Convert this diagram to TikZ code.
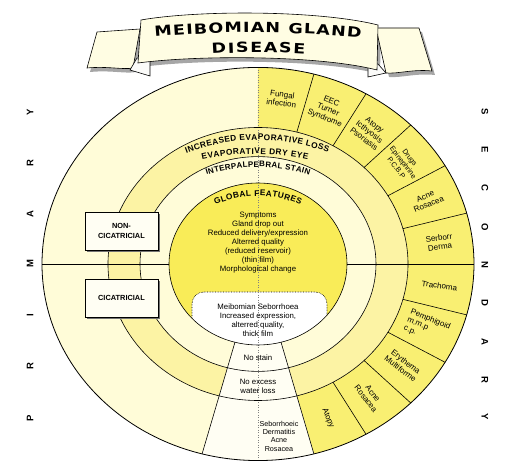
\documentclass[tikz,border=0pt]{standalone}
\usepackage{fontspec}
\setmainfont{Liberation Sans}
\newfontfamily\titlefont{DejaVu Sans}[FakeStretch=1.25]
\usetikzlibrary{decorations.text,shadows}

\definecolor{palecream}{HTML}{FFFCD8}
\definecolor{ringyellow}{HTML}{FCF3A4}
\definecolor{segyellow}{HTML}{F9EF72}
\definecolor{coreyellow}{HTML}{F9EC58}
\definecolor{cellcream}{HTML}{FFFEF3}
\definecolor{bannercream}{HTML}{FFFDE3}

\tikzset{
  seglabel/.style={font=\fontsize{8}{8.8}\selectfont, align=center, inner sep=1pt},
  bodytext/.style={font=\fontsize{7.8}{9}\selectfont, align=center, inner sep=0pt},
  sideletter/.style={font=\bfseries\fontsize{9.5}{9.5}\selectfont, inner sep=0pt},
  classbox/.style={draw, fill=cellcream, line width=0.6pt, minimum width=73pt,
    minimum height=38pt, align=center, font=\bfseries\fontsize{7.4}{9.5}\selectfont,
    drop shadow={shadow xshift=2.5pt, shadow yshift=-2.5pt, fill=black!55, opacity=1}},
  arctext/.style={decorate, decoration={text along path, text align={fit to path}, text={#1}}},
  ringline/.style={line width=0.6pt},
}

\begin{document}
\begin{tikzpicture}[x=1pt,y=1pt]

% ring radii (horizontal) and vertical squash
\def\Ro{216}
\def\Rs{150}
\def\Ra{118}
\def\Rb{89}
\def\Rm{183}
\def\sq{0.91}

\useasboundingbox (-258,-206) rectangle (262,264);

% centre
\coordinate (O) at (0,0);

% ring fills
\begin{scope}[yscale=\sq]
\fill[palecream] (O) circle (\Ro);
\fill[segyellow] (90:\Rs) -- (90:\Ro) arc[start angle=90, end angle=-75, radius=\Ro]
  -- (-75:\Rs) arc[start angle=-75, end angle=90, radius=\Rs] -- cycle;
\fill[ringyellow] (O) circle (\Rs);
\fill[palecream] (O) circle (\Ra);
\fill[coreyellow] (O) circle (\Rb);
\fill[cellcream] (255:\Rb) -- (255:\Ro) arc[start angle=255, end angle=285, radius=\Ro]
  -- (285:\Rb) arc[start angle=285, end angle=255, radius=\Rb] -- cycle;
\end{scope}

% meibomian seborrhoea box
\begin{scope}
\clip (O) ellipse [x radius=\Rb, y radius=\Rb*\sq];
\draw[fill=white, densely dotted, line width=0.6pt, rounded corners=12pt] (-66,-28) rectangle (69,-86);
\end{scope}

% centre line
\draw[gray, dash pattern=on 1pt off 1.5pt] (0,\Ro*\sq) -- (0,-\Ro*\sq);

% ring lines
\begin{scope}[yscale=\sq]
\draw[line width=0.8pt] (O) circle (\Ro);
\draw[ringline] (O) circle (\Rs);
\draw[ringline] (O) circle (\Ra);
\draw[ringline] (O) circle (\Rb);
\draw[ringline] (0:\Rb) -- (0:\Ro);
\draw[ringline] (180:\Rb) -- (180:\Ro);
\draw[ringline] (255:\Rb) -- (255:\Ro);
\draw[ringline] (285:\Rb) -- (285:\Ro);
\draw[ringline] (75:\Rs) -- (75:\Ro);
\draw[ringline] (60:\Rs) -- (60:\Ro);
\draw[ringline] (45:\Rs) -- (45:\Ro);
\draw[ringline] (30:\Rs) -- (30:\Ro);
\draw[ringline] (15:\Rs) -- (15:\Ro);
\draw[ringline] (-15:\Rs) -- (-15:\Ro);
\draw[ringline] (-30:\Rs) -- (-30:\Ro);
\draw[ringline] (-45:\Rs) -- (-45:\Ro);
\draw[ringline] (-60:\Rs) -- (-60:\Ro);

% secondary causes
\node[seglabel, rotate=-7.5] (fungal) at (82.5:\Rm) {Fungal\\infection};
\node[seglabel, rotate=-22.5] (eec) at (67.5:\Rm) {EEC\\Turner\\Syndrome};
\node[seglabel, rotate=-37.5] (atopyA) at (52.5:\Rm) {Atopy\\Icthyosis\\Psoriasis};
\node[seglabel, rotate=-52.5, font=\fontsize{7.2}{8.4}\selectfont] (drugs) at (37.5:\Rm) {Drugs\\Epinephrine\\P.C.B.P};
\node[seglabel, rotate=22.5] (acneA) at (22.5:\Rm) {Acne\\Rosacea};
\node[seglabel, rotate=7.5] (serborr) at (7.5:\Rm) {Serborr\\Derma};
\node[seglabel, rotate=-7.5] (trachoma) at (-7.5:\Rm) {Trachoma};
\node[seglabel, rotate=-22.5, align=left] (pemph) at (-22.5:\Rm) {Pemphigoid\\m.m.p\\c.p.};
\node[seglabel, rotate=-37.5] (erythema) at (-37.5:\Rm) {Erythema\\Multiforme};
\node[seglabel, rotate=-52.5] (acneB) at (-52.5:\Rm) {Acne\\Rosacea};
\node[seglabel, rotate=-67.5] (atopyB) at (-67.5:\Rm) {Atopy};

% bottom wedge
\node[bodytext] (nostain) at (270:103.5) {No stain};
\node[bodytext] (noexcess) at (270:134) {No excess\\water loss};
\end{scope}

\node[bodytext, font=\fontsize{7.2}{8.3}\selectfont] (seborrh) at (21,-172) {Seborrhoeic\\Dermatitis\\Acne\\Rosacea};

% global features
\node[bodytext] (features) at (0,21.5) {Symptoms\\Gland drop out\\Reduced delivery/expression\\Alterred quality\\(reduced reservoir)\\(thin film)\\Morphological change};
\node[bodytext] (meib) at (0,-56.5) {Meibomian Seborrhoea\\Increased expression,\\alterred quality,\\thick film};

% curved ring titles
\path[arctext={|\bfseries\fontsize{8.3}{8}\selectfont|INCREASED EVAPORATIVE LOSS}]
  ([shift={(0,-76)}]111:200) arc[start angle=111, end angle=69.5, radius=200];
\path[arctext={|\bfseries\fontsize{8.3}{8}\selectfont|EVAPORATIVE DRY EYE}]
  ([shift={(-3,-136)}]102.4:246) arc[start angle=102.4, end angle=77.6, radius=246];
\path[arctext={|\bfseries\fontsize{8}{8}\selectfont|INTERPALPEBRAL STAIN}]
  ([shift={(0,-73)}]107.6:170) arc[start angle=107.6, end angle=72.4, radius=170];
\path[arctext={|\bfseries\fontsize{8.3}{8}\selectfont|GLOBAL FEATURES}]
  ([shift={(0,-37)}]113.9:105) arc[start angle=113.9, end angle=66.1, radius=105];

% primary classes
\node[classbox] (noncic) at (-136.5,33) {NON-\\CICATRICIAL};
\node[classbox] (cic) at (-136.5,-34) {CICATRICIAL};

% side words
\node[sideletter, rotate=90] (pri1) at (-228,-154) {P};
\node[sideletter, rotate=90] (pri2) at (-228,-102) {R};
\node[sideletter, rotate=90] (pri3) at (-228,-51) {I};
\node[sideletter, rotate=90] (pri4) at (-228,0) {M};
\node[sideletter, rotate=90] (pri5) at (-228,50) {A};
\node[sideletter, rotate=90] (pri6) at (-228,101) {R};
\node[sideletter, rotate=90] (pri7) at (-228,152) {Y};

\node[sideletter, rotate=-90] (sec1) at (227,152) {S};
\node[sideletter, rotate=-90] (sec2) at (227,114) {E};
\node[sideletter, rotate=-90] (sec3) at (227,76) {C};
\node[sideletter, rotate=-90] (sec4) at (227,37) {O};
\node[sideletter, rotate=-90] (sec5) at (227,-1) {N};
\node[sideletter, rotate=-90] (sec6) at (227,-39) {D};
\node[sideletter, rotate=-90] (sec7) at (227,-78) {A};
\node[sideletter, rotate=-90] (sec8) at (227,-116) {R};
\node[sideletter, rotate=-90] (sec9) at (227,-153) {Y};

% banner shadow
\begin{scope}[shift={(3,-4)}]
\fill[black!35] (-118,235) -- (-161,232) -- (-171,196) .. controls (-150,198) and (-135,194) .. (-125,196) -- cycle;
\fill[black!35] (118,236) -- (161,236) -- (174,193) .. controls (155,195) and (140,190) .. (128,191) -- cycle;
\fill[black!35] (-117,244) .. controls (-60,254) and (60,254) .. (120,239) -- (119,194)
  .. controls (60,209) and (-60,209) .. (-120,201) -- cycle;
\end{scope}

% banner tails
\draw[fill=bannercream, line width=0.6pt] (-118,235) -- (-161,232) -- (-171,196)
  .. controls (-150,198) and (-135,194) .. (-125,196) -- cycle;
\draw[fill=bannercream!85!black!10, line width=0.6pt] (-128,194) -- (-108,188) -- (-108,205) -- (-121,206) -- cycle;
\draw[fill=bannercream, line width=0.6pt] (118,236) -- (161,236) -- (174,193)
  .. controls (155,195) and (140,190) .. (128,191) -- cycle;
\draw[fill=bannercream!85!black!10, line width=0.6pt] (128,191) -- (110,187) -- (110,200) -- (120,200) -- cycle;

% banner band
\draw[fill=bannercream, line width=0.6pt] (-117,244) .. controls (-60,254) and (60,254) .. (120,239)
  -- (119,194) .. controls (60,209) and (-60,209) .. (-120,201) -- cycle;

% title
\path[arctext={|\titlefont\bfseries\fontsize{14}{14}\selectfont|MEIBOMIAN GLAND}]
  (-103,227) .. controls (-40,233) and (40,233) .. (103,226);
\path[arctext={|\titlefont\bfseries\fontsize{14}{14}\selectfont|DISEASE}]
  (-46,210) .. controls (-15,212) and (15,212) .. (47,210);

\end{tikzpicture}
\end{document}
